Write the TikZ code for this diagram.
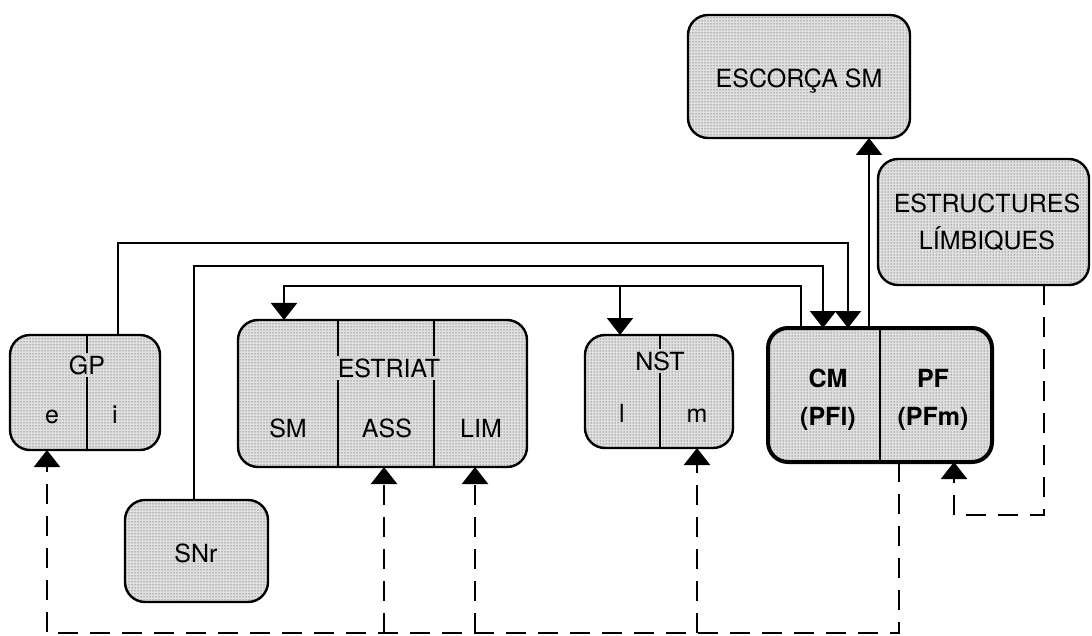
\documentclass[tikz,border=0pt]{standalone}
\usepackage{fontspec}
\setmainfont{TeX Gyre Heros}
\usetikzlibrary{arrows.meta,patterns}
\begin{document}
\begin{tikzpicture}[x=1pt,y=-1pt,
  box/.style={draw, line width=2.4pt, rounded corners=20pt, inner sep=0pt, outer sep=0pt,
    anchor=north west, preaction={fill=black!12}, pattern=dots, pattern color=black!85},
  lbl/.style={anchor=base, inner sep=2pt, font=\fontsize{25}{28}\selectfont},
  blbl/.style={lbl, font=\fontsize{25}{28}\selectfont\bfseries},
  >={Triangle[width=26pt,length=17pt]},
  conn/.style={line width=2pt, ->},
  dconn/.style={line width=2.2pt, dash pattern=on 20pt off 12pt, ->},
  divider/.style={line width=1.6pt}
]
\useasboundingbox (0,0) rectangle (1092,636);

% boxes
\node[box, minimum width=150pt, minimum height=115pt] (gp) at (10,335) {};
\node[box, minimum width=143pt, minimum height=102pt] (snr) at (125,500) {};
\node[box, minimum width=289pt, minimum height=147pt] (str) at (238,320) {};
\node[box, minimum width=148pt, minimum height=113pt] (nst) at (585,335) {};
\node[box, line width=4pt, minimum width=224pt, minimum height=134pt] (cm) at (768,328) {};
\node[box, minimum width=222pt, minimum height=123pt] (esc) at (688,15) {};
\node[box, minimum width=211pt, minimum height=126pt] (lim) at (878,159) {};

% labels
\node[lbl] (gpT) at (87,374) {GP};
\node[lbl] (gpE) at (52,423) {e};
\node[lbl] (gpI) at (115,423) {i};
\node[lbl] (snrT) at (196,562) {SNr};
\node[lbl] (strT) at (389,377) {ESTRIAT};
\node[lbl] (strSM) at (288,437) {SM};
\node[lbl] (strASS) at (387,437) {ASS};
\node[lbl] (strLIM) at (481,437) {LIM};
\node[lbl] (nstT) at (660,370) {NST};
\node[lbl] (nstL) at (622,422) {l};
\node[lbl] (nstM) at (697,422) {m};
\node[blbl] (cmT) at (828,387) {CM};
\node[blbl] (cmP) at (828,425) {(PFl)};
\node[blbl] (pfT) at (933,387) {PF};
\node[blbl] (pfP) at (933,425) {(PFm)};
\node[lbl] (escT) at (799,88) {ESCORÇA SM};
\node[lbl] (limT1) at (987,213) {ESTRUCTURES};
\node[lbl] (limT2) at (987,250) {LÍMBIQUES};

% dividers
\coordinate (d1) at (338,0);
\coordinate (d2) at (434,0);
\coordinate (d3) at (880,0);
\draw[divider] (gp.north -| gpT) -- (gpT.north);
\draw[divider] (gpT.south) -- (gp.south -| gpT);
\draw[divider] (str.north -| d1) -- (d1 |- strT.north);
\draw[divider] (d1 |- strT.south) -- (str.south -| d1);
\draw[divider] (str.north -| d2) -- (d2 |- strT.north);
\draw[divider] (d2 |- strT.south) -- (str.south -| d2);
\draw[divider] (nst.north -| nstT) -- (nstT.north);
\draw[divider] (nstT.south) -- (nst.south -| nstT);
\draw[divider] (cm.north -| d3) -- (cm.south -| d3);

% solid connectors
\coordinate (x1) at (118,243); \coordinate (x1e) at (848,243);
\draw[conn] (gp.north -| x1) -- (x1) -- (x1e) -- (cm.north -| x1e);
\coordinate (x2) at (194,266); \coordinate (x2e) at (823,266);
\draw[conn] (snr.north -| x2) -- (x2) -- (x2e) -- (cm.north -| x2e);
\coordinate (x3) at (801,286); \coordinate (x3e) at (284,286); \coordinate (x3m) at (620,286);
\draw[conn] (cm.north -| x3) -- (x3) -- (x3e) -- (str.north -| x3e);
\draw[conn] (x3m) -- (nst.north -| x3m);
\coordinate (x4) at (869,0);
\draw[conn] (cm.north -| x4) -- (esc.south -| x4);

% dashed connectors
\coordinate (b0) at (47,633); \coordinate (b1) at (899,633);
\draw[dconn] (cm.south -| b1) -- (b1) -- (b0) -- (gp.south -| b0);
\coordinate (b2) at (384,633);
\draw[dconn] (b2) -- (str.south -| b2);
\coordinate (b3) at (475,633);
\draw[dconn] (b3) -- (str.south -| b3);
\coordinate (b4) at (697,633);
\draw[dconn] (b4) -- (nst.south -| b4);
\coordinate (l1) at (1044,515); \coordinate (l2) at (954,515);
\draw[dconn] (lim.south -| l1) -- (l1) -- (l2) -- (cm.south -| l2);
\end{tikzpicture}
\end{document}
